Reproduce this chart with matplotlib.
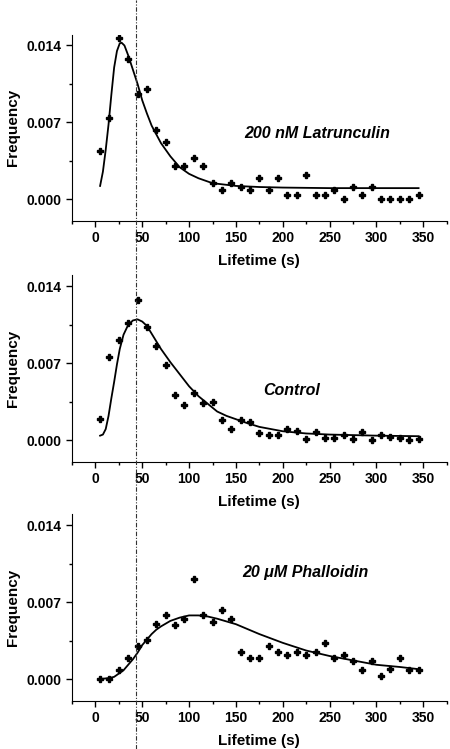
import numpy as np
import matplotlib
matplotlib.use("Agg")
import matplotlib.pyplot as plt
from matplotlib.lines import Line2D
from matplotlib.ticker import MultipleLocator, FormatStrFormatter

plt.rcParams['font.family'] = ['Liberation Sans', 'DejaVu Sans']

# bin centres (s)
lifetime = [5, 15, 25, 35, 45, 55, 65, 75, 85, 95, 105, 115, 125, 135, 145, 155, 165,
            175, 185, 195, 205, 215, 225, 235, 245, 255, 265, 275, 285, 295, 305, 315,
            325, 335, 345]

# measured frequencies
freq_latrunculin = [0.0044, 0.0074, 0.0147, 0.0128, 0.0096, 0.0100, 0.0063, 0.0052,
                    0.0030, 0.0030, 0.0037, 0.0030, 0.0015, 0.0008, 0.0015, 0.0011,
                    0.0008, 0.0019, 0.0008, 0.0019, 0.0004, 0.0004, 0.0022, 0.0004,
                    0.0004, 0.0008, 0.0000, 0.0011, 0.0004, 0.0011, 0.0000, 0.0000,
                    0.0000, 0.0000, 0.0004]
freq_control = [0.0019, 0.0076, 0.0091, 0.0107, 0.0128, 0.0103, 0.0086, 0.0068,
                0.0041, 0.0032, 0.0043, 0.0034, 0.0035, 0.0018, 0.0010, 0.0018,
                0.0016, 0.0006, 0.0005, 0.0005, 0.0010, 0.0008, 0.0001, 0.0007,
                0.0002, 0.0002, 0.0005, 0.0001, 0.0007, 0.0000, 0.0005, 0.0003,
                0.0002, 0.0000, 0.0001]
freq_phalloidin = [0.0000, 0.0000, 0.0008, 0.0019, 0.0030, 0.0036, 0.0050, 0.0058,
                   0.0049, 0.0055, 0.0091, 0.0058, 0.0052, 0.0063, 0.0055, 0.0025,
                   0.0019, 0.0019, 0.0030, 0.0025, 0.0022, 0.0025, 0.0022, 0.0025,
                   0.0033, 0.0019, 0.0022, 0.0016, 0.0008, 0.0016, 0.0003, 0.0009,
                   0.0019, 0.0008, 0.0008]

# fitted curves
fit_x_lat = [5, 8, 11, 14, 17, 20, 23, 26, 28, 31, 35, 40, 45, 50, 55, 60, 70, 80, 90,
             100, 110, 125, 150, 175, 200, 250, 300, 345]
fit_y_lat = [0.0012, 0.0025, 0.0045, 0.0068, 0.0095, 0.0120, 0.0135, 0.0142, 0.01425,
             0.0140, 0.0131, 0.0118, 0.0105, 0.0090, 0.0078, 0.0067, 0.0051, 0.0039,
             0.0029, 0.0023, 0.0019, 0.00145, 0.0012, 0.0011, 0.00105, 0.0010, 0.0010,
             0.0010]
fit_x_ctl = [5, 8, 11, 14, 17, 20, 23, 26, 30, 35, 40, 45, 50, 55, 60, 70, 80, 90, 100,
             110, 120, 130, 140, 150, 160, 175, 200, 225, 250, 300, 345]
fit_y_ctl = [0.0004, 0.0005, 0.0010, 0.0022, 0.0038, 0.0053, 0.0069, 0.0083, 0.0096,
             0.0105, 0.0109, 0.0110, 0.0108, 0.0104, 0.0097, 0.0083, 0.0071, 0.0060,
             0.0049, 0.0040, 0.0033, 0.0026, 0.0022, 0.0019, 0.0016, 0.0012, 0.0008,
             0.0006, 0.0005, 0.0004, 0.00035]
fit_x_pha = [5, 15, 20, 25, 30, 35, 40, 45, 50, 55, 60, 65, 70, 80, 90, 100, 110, 120,
             130, 150, 175, 200, 225, 250, 275, 300, 325, 345]
fit_y_pha = [0.0000, 0.0001, 0.0002, 0.0005, 0.0008, 0.0013, 0.0018, 0.0024, 0.0031,
             0.0036, 0.0041, 0.0045, 0.0048, 0.0053, 0.0056, 0.0058, 0.0058, 0.0057,
             0.0055, 0.0050, 0.0041, 0.0033, 0.0026, 0.0021, 0.0017, 0.0013, 0.0011,
             0.0009]

panels = [
    (freq_latrunculin, fit_x_lat, fit_y_lat, "200 nM Latrunculin", (237, 0.0060)),
    (freq_control, fit_x_ctl, fit_y_ctl, "Control", (209, 0.0045)),
    (freq_phalloidin, fit_x_pha, fit_y_pha, "20 \u03bcM Phalloidin", (224, 0.0097)),
]
bottoms = [0.7049, 0.3832, 0.0641]
marker_line = 43

fig = plt.figure(figsize=(4.5, 7.49), dpi=100)
axes = []
for (freq, fx, fy, label, pos), b in zip(panels, bottoms):
    ax = fig.add_axes([0.16, b, 0.8326, 0.249])
    ax.plot(lifetime, freq, linestyle='none', marker='P', markersize=4.5, color='black')
    ax.plot(fx, fy, color='black', linewidth=1.3)
    ax.text(pos[0], pos[1], label, ha='center', va='center', fontsize=11.5,
            style='italic', fontweight='bold')
    ax.set_xlim(-25, 375)
    ax.set_ylim(-0.002, 0.015)
    ax.xaxis.set_major_locator(MultipleLocator(50))
    ax.xaxis.set_minor_locator(MultipleLocator(25))
    ax.yaxis.set_major_locator(MultipleLocator(0.007))
    ax.yaxis.set_minor_locator(MultipleLocator(0.0035))
    ax.yaxis.set_major_formatter(FormatStrFormatter('%.3f'))
    for s in ['top', 'right']:
        ax.spines[s].set_visible(False)
    ax.tick_params(which='major', direction='out', length=4, width=1, labelsize=10)
    ax.tick_params(which='minor', direction='out', length=2.5, width=1)
    for t in ax.get_xticklabels() + ax.get_yticklabels():
        t.set_fontweight('bold')
    ax.set_xlabel("Lifetime (s)", fontsize=11, fontweight='bold', labelpad=6)
    ax.set_ylabel("Frequency", fontsize=11, fontweight='bold', labelpad=6)
    ax.yaxis.set_label_coords(-0.14, 0.5)
    axes.append(ax)

# dash-dot reference line through all panels
fig.canvas.draw()
xf = fig.transFigure.inverted().transform(axes[0].transData.transform((marker_line, 0)))[0]
fig.add_artist(Line2D([xf, xf], [0, 1], transform=fig.transFigure, color='#333333',
                      linewidth=0.8, linestyle=(0, (4, 1.5, 1, 1.5))))

fig.savefig("out.png", dpi=100)
